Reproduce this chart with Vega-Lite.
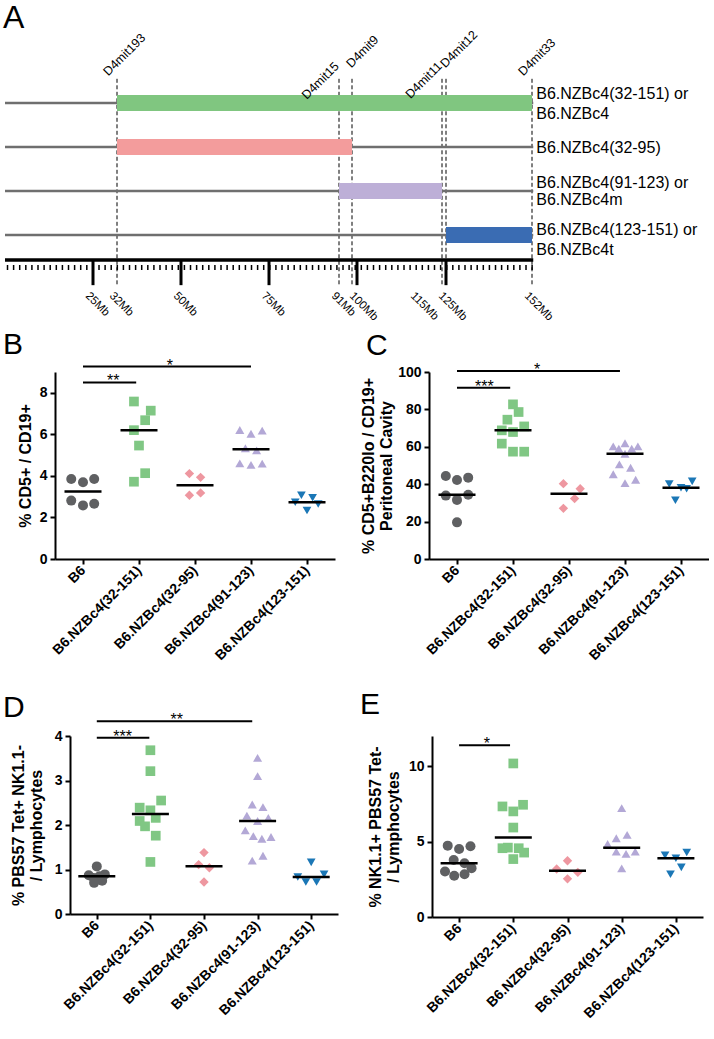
{
"$schema": "https://vega.github.io/schema/vega-lite/v6.json",
"background": "white",
"padding": {"left": 3, "top": 2, "right": 0, "bottom": 0},
"config": {
  "font": "Liberation Sans",
  "view": {"stroke": null},
  "axis": {"domainColor": "#000", "domainWidth": 2, "tickColor": "#000", "tickWidth": 2, "tickSize": 5, "labelColor": "#000", "labelFontWeight": "bold", "labelFontSize": 14, "labelPadding": 3, "labelOverlap": false, "titleColor": "#000", "titleFontWeight": "bold", "titleFontSize": 16, "titleLineHeight": 18, "grid": false, "labelFont": "Liberation Sans", "titleFont": "Liberation Sans"},
  "axisX": {"labelAngle": -45, "labelAlign": "right", "labelBaseline": "middle", "labelFontSize": 14, "labelPadding": 4, "labelFlush": false, "tickCount": 10},
  "title": {"color": "#000", "fontWeight": "normal", "fontSize": 30, "anchor": "start", "frame": "group", "offset": 2, "font": "Liberation Sans"},
  "text": {"color": "#000", "font": "Liberation Sans"}
},
"datasets": {
  "strains": [
    {"strain": "32-151", "t": 1, "start": 32, "end": 152},
    {"strain": "32-95", "t": 2, "start": 32, "end": 95},
    {"strain": "91-123", "t": 3, "start": 91, "end": 123},
    {"strain": "123-151", "t": 4, "start": 125, "end": 152}
  ],
  "rlabels": [
    {"t": 0.79, "text": "B6.NZBc4(32-151) or"}, {"t": 1.24, "text": "B6.NZBc4"},
    {"t": 2.03, "text": "B6.NZBc4(32-95)"},
    {"t": 2.82, "text": "B6.NZBc4(91-123) or"}, {"t": 3.2, "text": "B6.NZBc4m"},
    {"t": 3.88, "text": "B6.NZBc4(123-151) or"}, {"t": 4.33, "text": "B6.NZBc4t"}
  ],
  "markers": [{"mb": 32}, {"mb": 91}, {"mb": 95}, {"mb": 123}, {"mb": 125}, {"mb": 152}],
  "mk2": [
    {"lab": "D4mit193", "pos": 32, "side": "a"}, {"lab": "D4mit15", "pos": 91, "side": "r"}, {"lab": "D4mit9", "pos": 95, "side": "l"},
    {"lab": "D4mit11", "pos": 123, "side": "r"}, {"lab": "D4mit12", "pos": 125, "side": "l"}, {"lab": "D4mit33", "pos": 152, "side": "a"}
  ],
  "mblabels": [
    {"mb": 25, "label": "25Mb"}, {"mb": 32, "label": "32Mb"}, {"mb": 50, "label": "50Mb"}, {"mb": 75, "label": "75Mb"},
    {"mb": 91, "label": "91Mb"}, {"mb": 100, "label": "100Mb"}, {"mb": 115, "label": "115Mb"}, {"mb": 125, "label": "125Mb"}, {"mb": 152, "label": "152Mb"}
  ],
  "majors": [{"mb": 25}, {"mb": 50}, {"mb": 75}, {"mb": 100}, {"mb": 125}],
  "sig": [
    {"p": "B", "from": 0, "to": 0.95, "y": 8.5, "mid": 0.54, "s": "**"},
    {"p": "B", "from": 0, "to": 3.0, "y": 9.26, "mid": 1.55, "s": "*"},
    {"p": "C", "from": 0, "to": 0.95, "y": 91.6, "mid": 0.49, "s": "***"},
    {"p": "C", "from": 0, "to": 2.91, "y": 100.5, "mid": 1.43, "s": "*"},
    {"p": "D", "from": 0, "to": 0.98, "y": 3.96, "mid": 0.48, "s": "***"},
    {"p": "D", "from": 0, "to": 2.9, "y": 4.33, "mid": 1.49, "s": "**"},
    {"p": "E", "from": 0, "to": 0.94, "y": 11.38, "mid": 0.51, "s": "*"}
  ],
  "pts": [
    {"p":"B","g":0,"x":-0.21,"v":3.85},{"p":"B","g":0,"x":0,"v":3.69},{"p":"B","g":0,"x":0.2,"v":3.85},{"p":"B","g":0,"x":-0.21,"v":2.81},{"p":"B","g":0,"x":0,"v":2.58},{"p":"B","g":0,"x":0.2,"v":2.66},
    {"p":"B","g":1,"x":0.91,"v":7.58},{"p":"B","g":1,"x":1.21,"v":7.14},{"p":"B","g":1,"x":1.11,"v":6.68},{"p":"B","g":1,"x":0.91,"v":6.2},{"p":"B","g":1,"x":1.0,"v":5.46},{"p":"B","g":1,"x":1.11,"v":4.13},{"p":"B","g":1,"x":0.91,"v":3.72},
    {"p":"B","g":2,"x":1.9,"v":4.11},{"p":"B","g":2,"x":2.1,"v":3.93},{"p":"B","g":2,"x":1.9,"v":3.07},{"p":"B","g":2,"x":2.1,"v":3.18},
    {"p":"B","g":3,"x":2.8,"v":6.21},{"p":"B","g":3,"x":3.0,"v":6.03},{"p":"B","g":3,"x":3.2,"v":6.18},{"p":"B","g":3,"x":2.9,"v":5.33},{"p":"B","g":3,"x":3.1,"v":5.23},{"p":"B","g":3,"x":2.8,"v":4.6},{"p":"B","g":3,"x":3.0,"v":4.53},{"p":"B","g":3,"x":3.2,"v":4.59},
    {"p":"B","g":4,"x":3.79,"v":2.73},{"p":"B","g":4,"x":3.9,"v":3.07},{"p":"B","g":4,"x":4.1,"v":2.95},{"p":"B","g":4,"x":4.2,"v":2.65},{"p":"B","g":4,"x":4.0,"v":2.33},
    {"p":"C","g":0,"x":-0.2,"v":44.4},{"p":"C","g":0,"x":0,"v":42.2},{"p":"C","g":0,"x":0.2,"v":43.5},{"p":"C","g":0,"x":-0.2,"v":33.9},{"p":"C","g":0,"x":0.2,"v":34.4},{"p":"C","g":0,"x":0,"v":31.6},{"p":"C","g":0,"x":0,"v":19.6},
    {"p":"C","g":1,"x":1,"v":82.7},{"p":"C","g":1,"x":1.1,"v":78.6},{"p":"C","g":1,"x":0.9,"v":74.5},{"p":"C","g":1,"x":1.2,"v":70.9},{"p":"C","g":1,"x":0.8,"v":68.8},{"p":"C","g":1,"x":1,"v":67.9},{"p":"C","g":1,"x":0.8,"v":61.7},{"p":"C","g":1,"x":1,"v":57.4},{"p":"C","g":1,"x":1.2,"v":57.4},
    {"p":"C","g":2,"x":1.9,"v":40.3},{"p":"C","g":2,"x":2.2,"v":37.6},{"p":"C","g":2,"x":2.1,"v":32.3},{"p":"C","g":2,"x":1.9,"v":27.1},
    {"p":"C","g":3,"x":2.79,"v":60.2},{"p":"C","g":3,"x":3,"v":61.9},{"p":"C","g":3,"x":3.23,"v":60.2},{"p":"C","g":3,"x":2.89,"v":59},{"p":"C","g":3,"x":3.12,"v":59},{"p":"C","g":3,"x":3,"v":56.3},{"p":"C","g":3,"x":2.9,"v":50.6},{"p":"C","g":3,"x":3.1,"v":48.8},{"p":"C","g":3,"x":2.79,"v":45.3},{"p":"C","g":3,"x":3,"v":40.6},{"p":"C","g":3,"x":3.19,"v":42.4},
    {"p":"C","g":4,"x":3.79,"v":40.1},{"p":"C","g":4,"x":4,"v":38.1},{"p":"C","g":4,"x":4.1,"v":37.6},{"p":"C","g":4,"x":4.2,"v":41.5},{"p":"C","g":4,"x":3.9,"v":31.4},
    {"p":"D","g":0,"x":0,"v":1.07},{"p":"D","g":0,"x":0.15,"v":0.89},{"p":"D","g":0,"x":-0.15,"v":0.87},{"p":"D","g":0,"x":0.05,"v":0.85},{"p":"D","g":0,"x":-0.06,"v":0.81},{"p":"D","g":0,"x":0.1,"v":0.75},{"p":"D","g":0,"x":-0.05,"v":0.70},
    {"p":"D","g":1,"x":1,"v":3.68},{"p":"D","g":1,"x":1,"v":3.21},{"p":"D","g":1,"x":1.2,"v":2.55},{"p":"D","g":1,"x":0.8,"v":2.39},{"p":"D","g":1,"x":1,"v":2.33},{"p":"D","g":1,"x":1.1,"v":2.16},{"p":"D","g":1,"x":0.8,"v":2.09},{"p":"D","g":1,"x":0.9,"v":1.97},{"p":"D","g":1,"x":1.1,"v":1.76},{"p":"D","g":1,"x":1,"v":1.17},
    {"p":"D","g":2,"x":2,"v":1.38},{"p":"D","g":2,"x":1.9,"v":1.11},{"p":"D","g":2,"x":2.1,"v":1.04},{"p":"D","g":2,"x":2,"v":0.72},
    {"p":"D","g":3,"x":3,"v":3.51},{"p":"D","g":3,"x":3,"v":3.10},{"p":"D","g":3,"x":2.9,"v":2.46},{"p":"D","g":3,"x":3.1,"v":2.40},{"p":"D","g":3,"x":2.8,"v":2.21},{"p":"D","g":3,"x":3.2,"v":2.16},{"p":"D","g":3,"x":3,"v":2.09},{"p":"D","g":3,"x":2.77,"v":1.88},{"p":"D","g":3,"x":2.92,"v":1.75},{"p":"D","g":3,"x":3.08,"v":1.69},{"p":"D","g":3,"x":3.25,"v":1.73},{"p":"D","g":3,"x":2.9,"v":1.20},{"p":"D","g":3,"x":3.1,"v":1.31},
    {"p":"D","g":4,"x":4,"v":1.16},{"p":"D","g":4,"x":3.75,"v":0.83},{"p":"D","g":4,"x":3.9,"v":0.72},{"p":"D","g":4,"x":4.1,"v":0.72},{"p":"D","g":4,"x":4.24,"v":0.89},
    {"p":"E","g":0,"x":-0.21,"v":4.73},{"p":"E","g":0,"x":0,"v":4.51},{"p":"E","g":0,"x":0.21,"v":4.69},{"p":"E","g":0,"x":-0.1,"v":3.78},{"p":"E","g":0,"x":0.1,"v":3.56},{"p":"E","g":0,"x":-0.26,"v":3.02},{"p":"E","g":0,"x":0.23,"v":3.24},{"p":"E","g":0,"x":-0.09,"v":2.73},{"p":"E","g":0,"x":0.1,"v":2.84},
    {"p":"E","g":1,"x":1,"v":10.18},{"p":"E","g":1,"x":0.8,"v":7.33},{"p":"E","g":1,"x":1.18,"v":7.44},{"p":"E","g":1,"x":1,"v":7.0},{"p":"E","g":1,"x":1,"v":5.93},{"p":"E","g":1,"x":0.8,"v":4.56},{"p":"E","g":1,"x":0.9,"v":4.6},{"p":"E","g":1,"x":1.1,"v":4.56},{"p":"E","g":1,"x":1.2,"v":4.27},{"p":"E","g":1,"x":1,"v":3.84},
    {"p":"E","g":2,"x":2,"v":3.73},{"p":"E","g":2,"x":1.8,"v":3.18},{"p":"E","g":2,"x":2.19,"v":2.96},{"p":"E","g":2,"x":2,"v":2.53},
    {"p":"E","g":3,"x":3,"v":7.22},{"p":"E","g":3,"x":3.1,"v":5.44},{"p":"E","g":3,"x":2.9,"v":5.22},{"p":"E","g":3,"x":2.74,"v":4.84},{"p":"E","g":3,"x":3.25,"v":4.33},{"p":"E","g":3,"x":2.9,"v":4.33},{"p":"E","g":3,"x":3.08,"v":4.18},{"p":"E","g":3,"x":3,"v":3.22},
    {"p":"E","g":4,"x":3.8,"v":4.09},{"p":"E","g":4,"x":4,"v":3.89},{"p":"E","g":4,"x":4.2,"v":4.27},{"p":"E","g":4,"x":4.1,"v":3.29},{"p":"E","g":4,"x":3.9,"v":2.84}
  ]
},
"spacing": 5,
"vconcat": [
  {
    "width": 482, "height": 264,
    "title": {"text": "A", "dx": -52, "fontSize": 32, "offset": -6.5},
    "layer": [
      {"data": {"name": "markers"}, "mark": {"type": "rule", "strokeDash": [4, 2.5], "strokeWidth": 1, "color": "#000"},
       "encoding": {
         "x": {"field": "mb", "type": "quantitative", "axis": null, "scale": {"domain": [0,25,32,50,75,91,95,100,115,123,125,152,154], "range": [-50,38,62,126,214,284,297,302,363,387,391,477,482]}},
         "y": {"datum": 0.45, "type": "quantitative", "axis": null, "scale": {"domain": [0, 6], "range": [0, 264]}},
         "y2": {"datum": 5.16}}},
      {"data": {"name": "strains"}, "mark": {"type": "rule", "strokeWidth": 2.5, "color": "#6f6f6f"},
       "encoding": {"x": {"datum": 0, "type": "quantitative", "axis": null}, "x2": {"datum": 154}, "y": {"field": "t", "type": "quantitative", "axis": null}}},
      {"data": {"name": "strains"}, "mark": {"type": "rule", "strokeWidth": 16, "strokeCap": "butt"},
       "encoding": {"x": {"field": "start", "type": "quantitative", "axis": null}, "x2": {"field": "end"}, "y": {"field": "t", "type": "quantitative", "axis": null},
         "stroke": {"field": "strain", "type": "nominal", "legend": null, "scale": {"domain": ["32-151", "32-95", "91-123", "123-151"], "range": ["#80c680", "#f39c9c", "#bdafd7", "#3a6cb3"]}}}},
      {"data": {"values": [{"chr": "4"}]}, "mark": {"type": "rule", "strokeWidth": 3.5, "color": "#000"},
       "encoding": {"x": {"datum": 0, "type": "quantitative", "axis": null}, "x2": {"datum": 154}, "y": {"datum": 4.57, "type": "quantitative", "axis": null}}},
      {"data": {"values": [{"chr": "4"}]}, "mark": {"type": "rule", "strokeWidth": 5, "strokeDash": [1.5, 4.6], "color": "#000"},
       "encoding": {"x": {"datum": 0.5, "type": "quantitative", "axis": null}, "x2": {"datum": 154}, "y": {"datum": 4.74, "type": "quantitative", "axis": null}}},
      {"data": {"name": "majors"}, "mark": {"type": "rule", "strokeWidth": 3, "color": "#000"},
       "encoding": {"x": {"field": "mb", "type": "quantitative", "axis": null}, "y": {"datum": 4.57, "type": "quantitative", "axis": null}, "y2": {"datum": 5.14}}},
      {"data": {"name": "mk2"}, "transform": [{"filter": "datum.side === 'a'"}], "mark": {"type": "text", "angle": 315, "align": "left", "baseline": "alphabetic", "dx": -12.3, "fontSize": 12.5},
       "encoding": {"x": {"field": "pos", "type": "quantitative", "axis": null}, "y": {"datum": 0.2, "type": "quantitative", "axis": null}, "text": {"field": "lab"}}},
      {"data": {"name": "mk2"}, "transform": [{"filter": "datum.side === 'r'"}], "mark": {"type": "text", "angle": 315, "align": "right", "baseline": "alphabetic", "dx": 1, "fontSize": 12.5},
       "encoding": {"x": {"field": "pos", "type": "quantitative", "axis": null}, "y": {"datum": 0.2, "type": "quantitative", "axis": null}, "text": {"field": "lab"}}},
      {"data": {"name": "mk2"}, "transform": [{"filter": "datum.side === 'l'"}], "mark": {"type": "text", "angle": 315, "align": "left", "baseline": "alphabetic", "dx": -1, "fontSize": 12.5},
       "encoding": {"x": {"field": "pos", "type": "quantitative", "axis": null}, "y": {"datum": 0.2, "type": "quantitative", "axis": null}, "text": {"field": "lab"}}},
      {"data": {"name": "mblabels"}, "mark": {"type": "text", "angle": 45, "align": "left", "baseline": "alphabetic", "dx": -1.75, "dy": 9.55, "fontSize": 11.5},
       "encoding": {"x": {"field": "mb", "type": "quantitative", "axis": null}, "y": {"datum": 5.27, "type": "quantitative", "axis": null}, "text": {"field": "label"}}},
      {"data": {"name": "rlabels"}, "mark": {"type": "text", "align": "left", "baseline": "middle", "dx": 3, "fontSize": 16},
       "encoding": {"x": {"datum": 154, "type": "quantitative", "axis": null}, "y": {"field": "t", "type": "quantitative", "axis": null}, "text": {"field": "text"}}}
    ]
  },
  {
    "spacing": 27,
    "vconcat": [
      {
        "spacing": 25,
        "hconcat": [
          {
            "width": 280, "height": 187,
            "title": {"text": "B", "dx": -52, "offset": -2},
            "layer": [
              {"data": {"name": "pts"}, "transform": [{"filter": "datum.p === 'B'"}],
               "mark": {"type": "point", "filled": true, "opacity": 1},
               "encoding": {
                 "x": {"field": "x", "type": "quantitative", "scale": {"domain": [-0.5, 4.5], "nice": false, "zero": false}, "axis": {"values": [0,1,2,3,4], "title": null, "labelOverlap": false, "labelExpr": "['B6','B6.NZBc4(32-151)','B6.NZBc4(32-95)','B6.NZBc4(91-123)','B6.NZBc4(123-151)'][datum.value]"}},
                 "y": {"field": "v", "type": "quantitative", "scale": {"domain": [0, 9], "nice": false}, "axis": {"values": [0,2,4,6,8], "format": "d", "labelOverlap": false, "title": "% CD5+ / CD19+", "titlePadding": 6}},
                 "shape": {"field": "g", "type": "nominal", "legend": null, "scale": {"domain": [0,1,2,3,4], "range": ["circle", "square", "diamond", "triangle-up", "triangle-down"]}},
                 "color": {"field": "g", "type": "nominal", "legend": null, "scale": {"domain": [0,1,2,3,4], "range": ["#5f6062", "#80c784", "#ee97a0", "#b3a8d6", "#1b77b6"]}},
                 "size": {"field": "g", "type": "ordinal", "legend": null, "scale": {"domain": [0,1,2,3,4], "range": [100, 76, 81, 100, 100]}}}},
              {"data": {"name": "pts"}, "transform": [{"filter": "datum.p === 'B'"}],
               "mark": {"type": "tick", "orient": "horizontal", "size": 37, "thickness": 2.5, "color": "#000"},
               "encoding": {"x": {"field": "g", "type": "quantitative"}, "y": {"aggregate": "median", "field": "v", "type": "quantitative"}}},
              {"data": {"name": "sig"}, "transform": [{"filter": "datum.p === 'B'"}],
               "mark": {"type": "rule", "strokeWidth": 2, "color": "#000"},
               "encoding": {"x": {"field": "from", "type": "quantitative"}, "x2": {"field": "to"}, "y": {"field": "y", "type": "quantitative"}}},
              {"data": {"name": "sig"}, "transform": [{"filter": "datum.p === 'B'"}],
               "mark": {"type": "text", "fontSize": 16, "baseline": "alphabetic", "dy": 4},
               "encoding": {"x": {"field": "mid", "type": "quantitative"}, "y": {"field": "y", "type": "quantitative"}, "text": {"field": "s"}}}
            ]
          },
          {
            "width": 280, "height": 187,
            "title": {"text": "C", "dx": -63, "offset": 1},
            "layer": [
              {"data": {"name": "pts"}, "transform": [{"filter": "datum.p === 'C'"}],
               "mark": {"type": "point", "filled": true, "opacity": 1},
               "encoding": {
                 "x": {"field": "x", "type": "quantitative", "scale": {"domain": [-0.5, 4.5], "nice": false, "zero": false}, "axis": {"values": [0,1,2,3,4], "title": null, "labelOverlap": false, "labelExpr": "['B6','B6.NZBc4(32-151)','B6.NZBc4(32-95)','B6.NZBc4(91-123)','B6.NZBc4(123-151)'][datum.value]"}},
                 "y": {"field": "v", "type": "quantitative", "scale": {"domain": [0, 100], "nice": false}, "axis": {"values": [0,20,40,60,80,100], "tickCount": 10, "format": "d", "labelOverlap": false, "title": ["% CD5+B220lo / CD19+", "Peritoneal Cavity"], "titlePadding": 3}},
                 "shape": {"field": "g", "type": "nominal", "legend": null, "scale": {"domain": [0,1,2,3,4], "range": ["circle", "square", "diamond", "triangle-up", "triangle-down"]}},
                 "color": {"field": "g", "type": "nominal", "legend": null, "scale": {"domain": [0,1,2,3,4], "range": ["#5f6062", "#80c784", "#ee97a0", "#b3a8d6", "#1b77b6"]}},
                 "size": {"field": "g", "type": "ordinal", "legend": null, "scale": {"domain": [0,1,2,3,4], "range": [100, 76, 81, 100, 100]}}}},
              {"data": {"name": "pts"}, "transform": [{"filter": "datum.p === 'C'"}],
               "mark": {"type": "tick", "orient": "horizontal", "size": 37, "thickness": 2.5, "color": "#000"},
               "encoding": {"x": {"field": "g", "type": "quantitative"}, "y": {"aggregate": "median", "field": "v", "type": "quantitative"}}},
              {"data": {"name": "sig"}, "transform": [{"filter": "datum.p === 'C'"}],
               "mark": {"type": "rule", "strokeWidth": 2, "color": "#000"},
               "encoding": {"x": {"field": "from", "type": "quantitative"}, "x2": {"field": "to"}, "y": {"field": "y", "type": "quantitative"}}},
              {"data": {"name": "sig"}, "transform": [{"filter": "datum.p === 'C'"}],
               "mark": {"type": "text", "fontSize": 16, "baseline": "alphabetic", "dy": 4},
               "encoding": {"x": {"field": "mid", "type": "quantitative"}, "y": {"field": "y", "type": "quantitative"}, "text": {"field": "s"}}}
            ]
          }
        ]
      },
      {
        "spacing": 22,
        "hconcat": [
          {
            "width": 283, "height": 178,
            "title": {"text": "D", "dx": -52, "offset": -11},
            "layer": [
              {"data": {"name": "pts"}, "transform": [{"filter": "datum.p === 'D'"}],
               "mark": {"type": "point", "filled": true, "opacity": 1},
               "encoding": {
                 "x": {"field": "x", "type": "quantitative", "scale": {"domain": [-0.5, 4.5], "range": [15, 283], "nice": false, "zero": false}, "axis": {"values": [0,1,2,3,4], "title": null, "labelOverlap": false, "labelExpr": "['B6','B6.NZBc4(32-151)','B6.NZBc4(32-95)','B6.NZBc4(91-123)','B6.NZBc4(123-151)'][datum.value]"}},
                 "y": {"field": "v", "type": "quantitative", "scale": {"domain": [0, 4], "nice": false}, "axis": {"values": [0,1,2,3,4], "format": "d", "offset": -15, "labelOverlap": false, "title": ["% PBS57 Tet+ NK1.1-", "/ Lymphocytes"], "titlePadding": 10}},
                 "shape": {"field": "g", "type": "nominal", "legend": null, "scale": {"domain": [0,1,2,3,4], "range": ["circle", "square", "diamond", "triangle-up", "triangle-down"]}},
                 "color": {"field": "g", "type": "nominal", "legend": null, "scale": {"domain": [0,1,2,3,4], "range": ["#5f6062", "#80c784", "#ee97a0", "#b3a8d6", "#1b77b6"]}},
                 "size": {"field": "g", "type": "ordinal", "legend": null, "scale": {"domain": [0,1,2,3,4], "range": [100, 76, 81, 100, 100]}}}},
              {"data": {"name": "pts"}, "transform": [{"filter": "datum.p === 'D'"}],
               "mark": {"type": "tick", "orient": "horizontal", "size": 37, "thickness": 2.5, "color": "#000"},
               "encoding": {"x": {"field": "g", "type": "quantitative"}, "y": {"aggregate": "median", "field": "v", "type": "quantitative"}}},
              {"data": {"name": "sig"}, "transform": [{"filter": "datum.p === 'D'"}],
               "mark": {"type": "rule", "strokeWidth": 2, "color": "#000"},
               "encoding": {"x": {"field": "from", "type": "quantitative"}, "x2": {"field": "to"}, "y": {"field": "y", "type": "quantitative"}}},
              {"data": {"name": "sig"}, "transform": [{"filter": "datum.p === 'D'"}],
               "mark": {"type": "text", "fontSize": 16, "baseline": "alphabetic", "dy": 4},
               "encoding": {"x": {"field": "mid", "type": "quantitative"}, "y": {"field": "y", "type": "quantitative"}, "text": {"field": "s"}}}
            ]
          },
          {
            "width": 271, "height": 181,
            "title": {"text": "E", "dx": -72, "offset": 16},
            "layer": [
              {"data": {"name": "pts"}, "transform": [{"filter": "datum.p === 'E'"}],
               "mark": {"type": "point", "filled": true, "opacity": 1},
               "encoding": {
                 "x": {"field": "x", "type": "quantitative", "scale": {"domain": [-0.5, 4.5], "nice": false, "zero": false}, "axis": {"values": [0,1,2,3,4], "title": null, "labelOverlap": false, "labelExpr": "['B6','B6.NZBc4(32-151)','B6.NZBc4(32-95)','B6.NZBc4(91-123)','B6.NZBc4(123-151)'][datum.value]"}},
                 "y": {"field": "v", "type": "quantitative", "scale": {"domain": [0, 12], "nice": false}, "axis": {"values": [0,5,10], "format": "d", "labelOverlap": false, "title": ["% NK1.1+ PBS57 Tet-", "/ Lymphocytes"], "titlePadding": 7}},
                 "shape": {"field": "g", "type": "nominal", "legend": null, "scale": {"domain": [0,1,2,3,4], "range": ["circle", "square", "diamond", "triangle-up", "triangle-down"]}},
                 "color": {"field": "g", "type": "nominal", "legend": null, "scale": {"domain": [0,1,2,3,4], "range": ["#5f6062", "#80c784", "#ee97a0", "#b3a8d6", "#1b77b6"]}},
                 "size": {"field": "g", "type": "ordinal", "legend": null, "scale": {"domain": [0,1,2,3,4], "range": [100, 76, 81, 100, 100]}}}},
              {"data": {"name": "pts"}, "transform": [{"filter": "datum.p === 'E'"}],
               "mark": {"type": "tick", "orient": "horizontal", "size": 37, "thickness": 2.5, "color": "#000"},
               "encoding": {"x": {"field": "g", "type": "quantitative"}, "y": {"aggregate": "median", "field": "v", "type": "quantitative"}}},
              {"data": {"name": "sig"}, "transform": [{"filter": "datum.p === 'E'"}],
               "mark": {"type": "rule", "strokeWidth": 2, "color": "#000"},
               "encoding": {"x": {"field": "from", "type": "quantitative"}, "x2": {"field": "to"}, "y": {"field": "y", "type": "quantitative"}}},
              {"data": {"name": "sig"}, "transform": [{"filter": "datum.p === 'E'"}],
               "mark": {"type": "text", "fontSize": 16, "baseline": "alphabetic", "dy": 4},
               "encoding": {"x": {"field": "mid", "type": "quantitative"}, "y": {"field": "y", "type": "quantitative"}, "text": {"field": "s"}}}
            ]
          }
        ]
      }
    ]
  }
]
}
